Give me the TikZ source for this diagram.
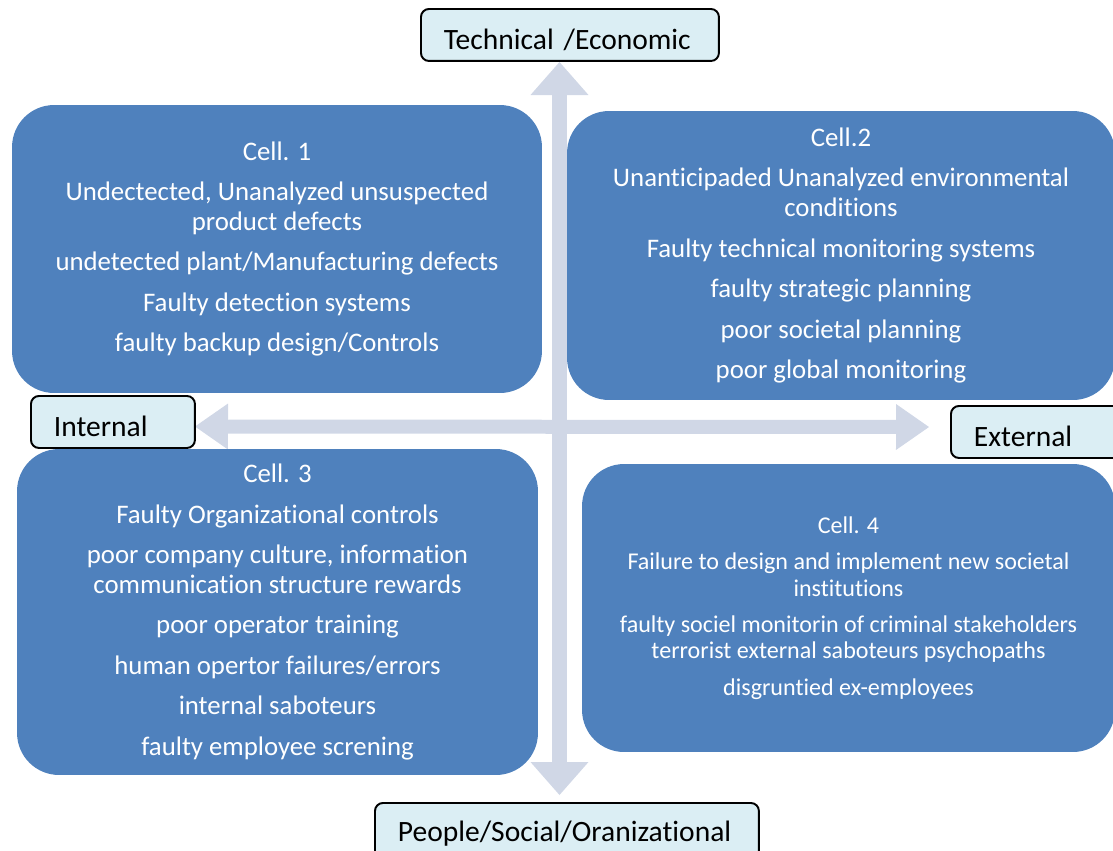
\documentclass[tikz,border=0pt]{standalone}
\usepackage{fontspec}
\setmainfont{Carlito}[Ligatures=NoCommon]
\usetikzlibrary{arrows.meta}
\definecolor{cellblue}{HTML}{4F81BD}
\definecolor{axisgray}{HTML}{D0D7E6}
\definecolor{tagfill}{HTML}{DBEEF4}

\begin{document}
\begin{tikzpicture}[x=0.02cm,y=-0.02cm,
    cell/.style={fill=cellblue,rounded corners=0.84cm,text=white,align=center,
      inner sep=0pt,font=\fontsize{15.25}{17}\selectfont},
    tag/.style={draw=black,line width=1.1pt,fill=tagfill,rounded corners=0.16cm,
      anchor=north west,align=left,inner xsep=0.46cm,inner ysep=0pt,
      text height=0.82cm,text depth=0.22cm,font=\fontsize{16.8}{19}\selectfont}]
        \useasboundingbox (0,0) rectangle (1113,850);
        \clip (0,0) rectangle (1113,850);
        % axis ends
        \coordinate (vtop) at (559.5,62);
        \coordinate (vbot) at (559.5,795);
        \coordinate (hleft) at (195,426.5);
        \coordinate (hright) at (929,427);
        \draw[axisgray,line width=0.3cm,
          {Triangle[width=1.16cm,length=0.66cm,line width=0pt]}-{Triangle[width=1.16cm,length=0.66cm,line width=0pt]}] (vtop) -- (vbot);
        \draw[axisgray,line width=0.28cm,
          {Triangle[width=0.92cm,length=0.66cm,line width=0pt]}-{Triangle[width=0.92cm,length=0.66cm,line width=0pt]}] (hleft) -- (hright);
        % the four cells
        \node[cell,minimum width=10.6cm,minimum height=5.76cm] (cell1) at (277,249)
          {Cell. 1\\[6pt] Undectected, Unanalyzed unsuspected\\ product defects\\[6pt]
           undetected plant/Manufacturing defects\\[6pt] Faulty detection systems\\[6pt]
           faulty backup design/Controls};
        \node[cell,minimum width=10.96cm,minimum height=5.78cm] (cell2) at (841,255.5)
          {Cell.2\\[6pt] Unanticipaded Unanalyzed environmental\\ conditions\\[6pt]
           Faulty technical monitoring systems\\[6pt] faulty strategic planning\\[6pt]
           poor societal planning\\[6pt] poor global monitoring};
        \node[cell,minimum width=10.42cm,minimum height=6.52cm] (cell3) at (277.5,612)
          {Cell. 3\\[6pt] Faulty Organizational controls\\[6pt]
           poor company culture, information\\ communication structure rewards\\[6pt]
           poor operator training\\[6pt] human opertor failures/errors\\[6pt]
           internal saboteurs\\[6pt] faulty employee screning};
        \node[cell,minimum width=10.66cm,minimum height=5.76cm,
          font=\fontsize{13.7}{15}\selectfont] (cell4) at (848.5,608)
          {Cell. 4\\[5.7pt] Failure to design and implement new societal\\ institutions\\[5.7pt]
           faulty sociel monitorin of criminal stakeholders\\ terrorist external saboteurs psychopaths\\[5.7pt]
           disgruntied ex-employees};
        % axis labels
        \node[tag,text width=5.04cm] (tech) at (420,8) {Technical /Economic};
        \node[tag,text width=2.36cm] (internal) at (30,395) {Internal};
        \node[tag,text width=2.88cm] (external) at (950,405) {External};
        \node[tag,text width=6.76cm,text height=0.78cm,text depth=0.5cm] (people) at (374,802) {People/Social/Oranizational};
\end{tikzpicture}
\end{document}
